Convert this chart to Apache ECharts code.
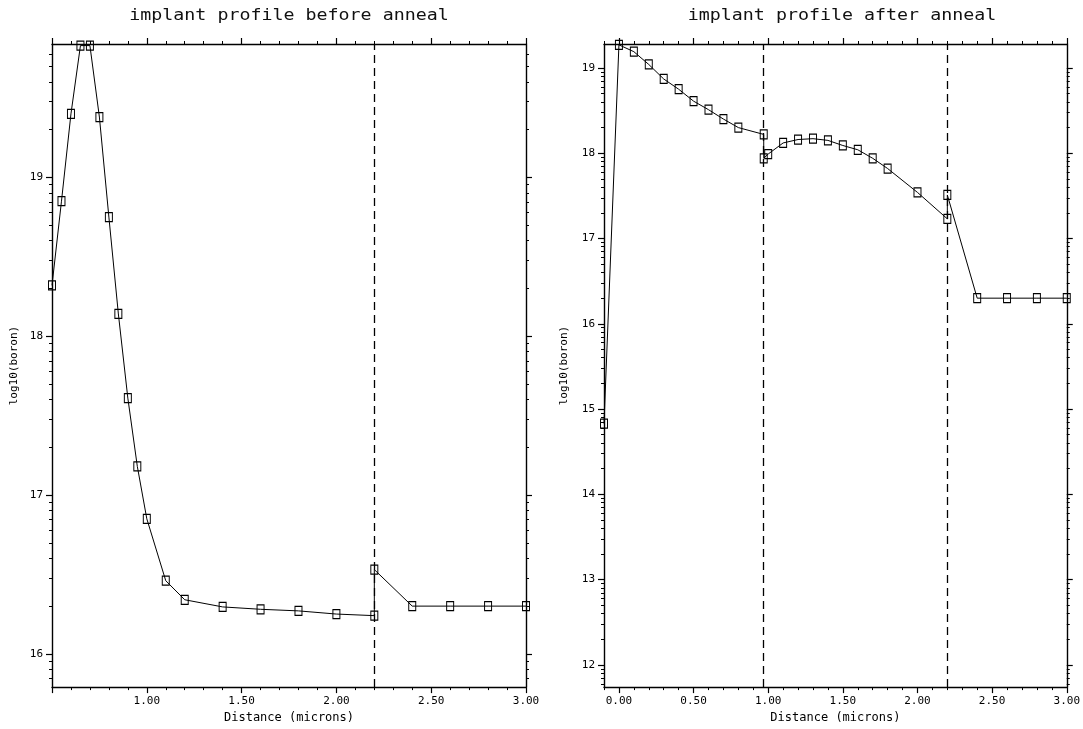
<!DOCTYPE html>
<html>
<head>
<meta charset="utf-8">
<script src="https://cdn.jsdelivr.net/npm/echarts@6/dist/echarts.min.js"></script>
<style>html,body{margin:0;padding:0;background:#fff;}#c{width:1083px;height:729px;}</style>
</head>
<body>
<div id="c"></div>
<script>
// ---- data ----
const leftTitle = 'implant profile before anneal';
const rightTitle = 'implant profile after anneal';
const xName = 'Distance (microns)';
const yName = 'log10(boron)';

const leftX = [0.5,0.55,0.6,0.65,0.7,0.75,0.8,0.85,0.9,0.95,1.0,1.1,1.2,1.4,1.6,1.8,2.0,2.2,2.2,2.4,2.6,2.8,3.0];
const leftY = [18.32,18.85,19.40,19.83,19.83,19.38,18.75,18.14,17.61,17.18,16.85,16.46,16.34,16.295,16.28,16.27,16.25,16.24,16.53,16.30,16.30,16.30,16.30];
const leftDashes = [2.2];
const leftXTicks = [0.5,1.0,1.5,2.0,2.5,3.0];
const leftYTicks = [16,17,18,19];

const rightX = [-0.1,0.0,0.1,0.2,0.3,0.4,0.5,0.6,0.7,0.8,0.97,0.97,1.0,1.1,1.2,1.3,1.4,1.5,1.6,1.7,1.8,2.0,2.2,2.2,2.4,2.6,2.8,3.0];
const rightY = [14.83,19.27,19.19,19.04,18.87,18.75,18.61,18.51,18.40,18.30,18.22,17.94,17.99,18.12,18.16,18.17,18.15,18.09,18.04,17.94,17.82,17.54,17.23,17.51,16.30,16.30,16.30,16.30];
const rightDashes = [0.97, 2.2];
const rightXTicks = [0.0,0.5,1.0,1.5,2.0,2.5,3.0];
const rightYTicks = [12,13,14,15,16,17,18,19];

// ---- helpers ----
const FONT = '"DejaVu Sans Mono", monospace';
function logMinor(lo, hi){
  const out=[];
  for(let d=Math.floor(lo)-1; d<=Math.ceil(hi); d++){
    for(let k=2;k<=9;k++){ const v=d+Math.log10(k); if(v>lo && v<hi) out.push(+v.toFixed(4)); }
  }
  return out;
}
function linMinor(lo, hi, step, majors){
  const out=[];
  const n=Math.round((hi-lo)/step);
  for(let i=0;i<=n;i++){ const v=+(lo+i*step).toFixed(3); if(!majors.some(m=>Math.abs(m-v)<1e-6)) out.push(v); }
  return out;
}
const AX = {color:'#000', width:1.4};
function xAxes(g, min, max, majors, showMinLabel){
  const minors = linMinor(min, max, 0.1, majors);
  const base = {type:'value', gridIndex:g, min, max, splitLine:{show:false}};
  return [
    Object.assign({}, base, {position:'bottom', name:xName, nameLocation:'middle', nameGap:23,
      nameTextStyle:{fontFamily:FONT, fontSize:12, color:'#000'},
      axisLine:{show:true, onZero:false, lineStyle:AX},
      axisTick:{show:true, length:6, customValues:majors, lineStyle:{color:'#000', width:1.2}},
      axisLabel:{show:true, customValues:majors.filter(v=>showMinLabel || v>min+1e-6), margin:9, fontFamily:FONT, fontSize:11, color:'#000', formatter:v=>v.toFixed(2)}}),
    Object.assign({}, base, {position:'bottom', axisLine:{show:false, onZero:false},
      axisTick:{show:true, length:3, customValues:minors, lineStyle:{color:'#000', width:1}}, axisLabel:{show:false}}),
    Object.assign({}, base, {position:'top', axisLine:{show:true, onZero:false, lineStyle:AX},
      axisTick:{show:true, length:6, customValues:majors, lineStyle:{color:'#000', width:1.2}}, axisLabel:{show:false}}),
    Object.assign({}, base, {position:'top', axisLine:{show:false, onZero:false},
      axisTick:{show:true, length:3, customValues:minors, lineStyle:{color:'#000', width:1}}, axisLabel:{show:false}})
  ];
}
function yAxes(g, min, max, majors, nameGap){
  const minors = logMinor(min, max);
  const base = {type:'value', gridIndex:g, min, max, splitLine:{show:false}};
  return [
    Object.assign({}, base, {position:'left', name:yName, nameLocation:'middle', nameGap:nameGap, nameRotate:90,
      nameTextStyle:{fontFamily:FONT, fontSize:11, color:'#000'},
      axisLine:{show:true, onZero:false, lineStyle:AX},
      axisTick:{show:true, length:6, customValues:majors, lineStyle:{color:'#000', width:1.2}},
      axisLabel:{show:true, customValues:majors, margin:9, fontFamily:FONT, fontSize:11, color:'#000', formatter:v=>String(v)}}),
    Object.assign({}, base, {position:'left', axisLine:{show:false, onZero:false},
      axisTick:{show:true, length:3, customValues:minors, lineStyle:{color:'#000', width:1}}, axisLabel:{show:false}}),
    Object.assign({}, base, {position:'right', axisLine:{show:true, onZero:false, lineStyle:AX},
      axisTick:{show:true, length:6, customValues:majors, lineStyle:{color:'#000', width:1.2}}, axisLabel:{show:false}}),
    Object.assign({}, base, {position:'right', axisLine:{show:false, onZero:false},
      axisTick:{show:true, length:3, customValues:minors, lineStyle:{color:'#000', width:1}}, axisLabel:{show:false}})
  ];
}
function lineSeries(xi, yi, xs, ys, dashes){
  return {
    type:'line', xAxisIndex:xi, yAxisIndex:yi,
    data: xs.map((x,i)=>[x, ys[i]]),
    smooth:false,
    symbol:'rect', symbolSize:[7,9],
    itemStyle:{color:'rgba(255,255,255,0)', borderColor:'#000', borderWidth:1.1},
    lineStyle:{color:'#000', width:1},
    clip:true, silent:true,
    markLine:{silent:true, symbol:['none','none'], label:{show:false},
      lineStyle:{color:'#000', type:[8,5], width:1.3},
      data: dashes.map(d=>({xAxis:d}))}
  };
}

const chart = echarts.init(document.getElementById('c'), null, {renderer:'canvas'});
chart.setOption({
  animation:false,
  backgroundColor:'#fff',
  grid:[
    {left:52, top:44, width:474, height:650},
    {left:604, top:44, width:476, height:650}
  ],
  xAxis: [].concat(xAxes(0, 0.5, 3.0, leftXTicks, false), xAxes(1, -0.1, 3.0, rightXTicks, true)),
  yAxis: [].concat(yAxes(0, 15.79, 19.84, leftYTicks, 32), yAxes(1, 11.74, 19.28, rightYTicks, 34)),
  series:[
    lineSeries(0, 0, leftX, leftY, leftDashes),
    lineSeries(4, 4, rightX, rightY, rightDashes)
  ],
  graphic:[
    {type:'text', x:289, y:16, scaleX:1.22, style:{text:leftTitle, font:'15px '+FONT, fill:'#111', align:'center', verticalAlign:'middle'}},
    {type:'text', x:842, y:16, scaleX:1.22, style:{text:rightTitle, font:'15px '+FONT, fill:'#111', align:'center', verticalAlign:'middle'}}
  ]
});
</script>
</body>
</html>
